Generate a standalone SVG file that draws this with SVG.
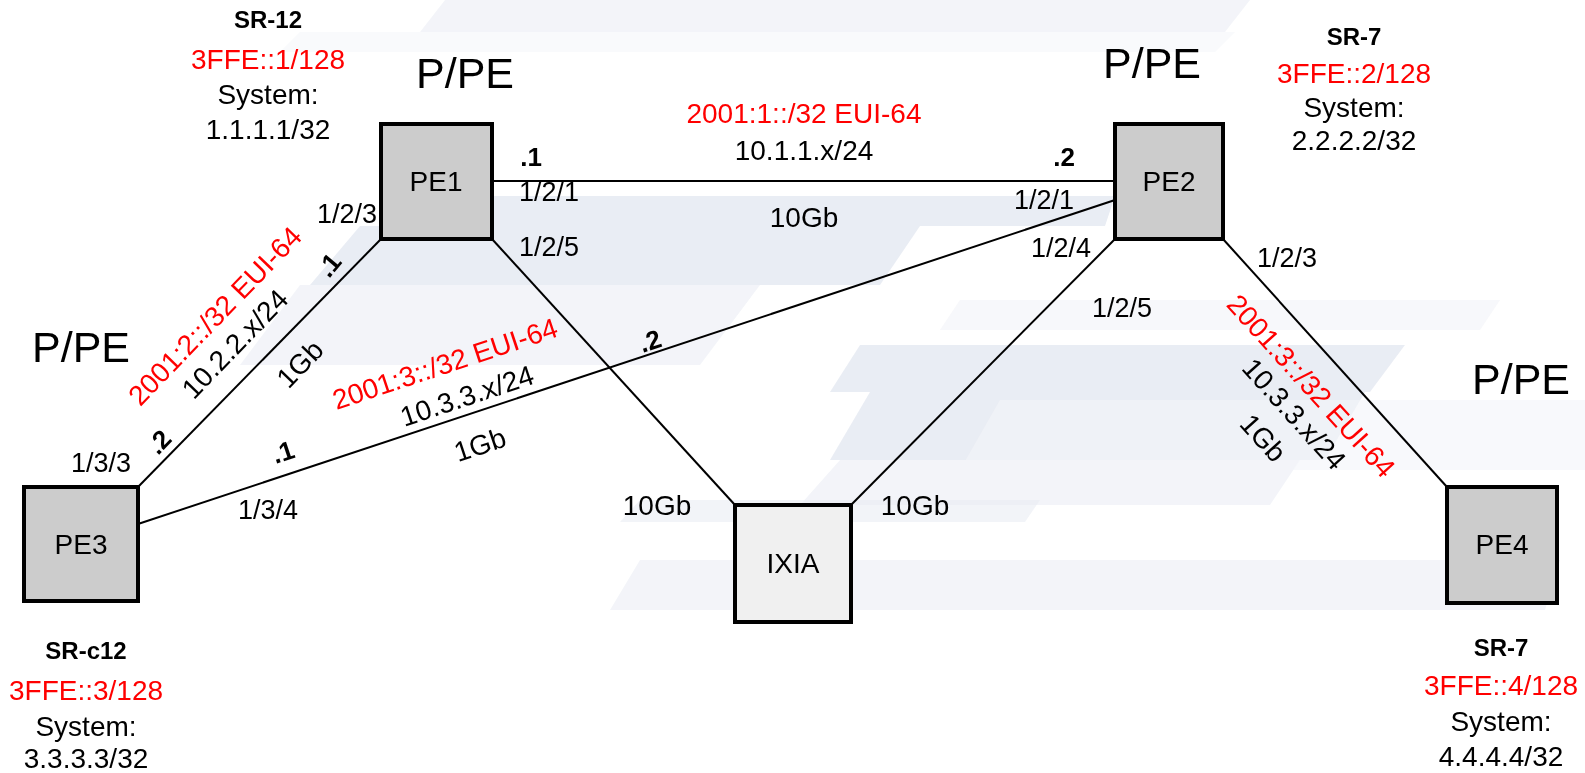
<svg xmlns="http://www.w3.org/2000/svg" width="1585" height="773" viewBox="0 0 1585 773">
<style>
text{font-family:"Liberation Sans",Arial,sans-serif;fill:#000;dominant-baseline:central;text-anchor:middle}
.t{font-size:28px}
.p{font-size:27px}
.r{fill:#ff0000}
.b{font-weight:bold;font-size:24px}
.d{font-weight:bold;font-size:26px}
.big{font-size:43px}
.node{stroke:#000;stroke-width:4}
.link{stroke:#000;stroke-width:2;fill:none}
.bg1{fill:#e6eaf2}
.bg2{fill:#f1f3f8}
</style>
<g id="background" opacity="0.85">
<polygon class="bg2" points="445,0 1250,0 1225,32 420,32"/>
<polygon class="bg2" points="300,32 1235,32 1215,52 280,52" opacity="0.5"/>
<polygon class="bg1" points="470,196 1115,196 1105,226 450,226"/>
<polygon class="bg1" points="360,226 920,226 880,285 310,285"/>
<polygon class="bg2" points="300,285 760,285 700,365 240,365"/>
<polygon class="bg2" points="960,300 1500,300 1480,330 940,330" opacity="0.7"/>
<polygon class="bg1" points="860,345 1405,345 1370,392 830,392"/>
<polygon class="bg1" points="870,392 1365,392 1325,460 830,460"/>
<polygon class="bg2" points="1000,400 1585,400 1585,470 960,470" opacity="0.6"/>
<polygon class="bg2" points="840,460 1300,460 1270,505 800,505"/>
<polygon class="bg1" points="640,500 1040,500 1025,522 620,522" opacity="0.6"/>
<polygon class="bg2" points="640,560 1560,560 1545,610 610,610"/>
</g>
<g id="connectors">
<line class="link" x1="492" y1="181" x2="1115" y2="181"/>
<line class="link" x1="1115" y1="200" x2="138" y2="524"/>
<line class="link" x1="381" y1="239" x2="138" y2="487"/>
<line class="link" x1="492" y1="239" x2="735" y2="505"/>
<line class="link" x1="1115" y1="239" x2="851" y2="505"/>
<line class="link" x1="1223" y1="239" x2="1447" y2="487"/>
</g>
<g id="link-labels">
<text class="t r" x="804" y="113">2001:1::/32 EUI-64</text>
<text class="t" x="804" y="150">10.1.1.x/24</text>
<text class="t" x="804" y="217">10Gb</text>
<text class="d" x="531" y="157">.1</text>
<text class="d" x="1064" y="157">.2</text>
<text class="p" x="549" y="192">1/2/1</text>
<text class="p" x="549" y="247">1/2/5</text>
<text class="p" x="347" y="214">1/2/3</text>
<text class="p" x="1044" y="200">1/2/1</text>
<text class="p" x="1061" y="248">1/2/4</text>
<text class="p" x="1122" y="308">1/2/5</text>
<text class="p" x="1287" y="258">1/2/3</text>
<text class="p" x="101" y="463">1/3/3</text>
<text class="p" x="268" y="510">1/3/4</text>
<text class="t" x="657" y="505">10Gb</text>
<text class="t" x="915" y="505">10Gb</text>
<text class="t r" transform="translate(215,316) rotate(-46)">2001:2::/32 EUI-64</text>
<text class="t" transform="translate(235,344) rotate(-46)">10.2.2.x/24</text>
<text class="t" transform="translate(300,364) rotate(-46)">1Gb</text>
<text class="d" transform="translate(329,265) rotate(-50)">.1</text>
<text class="d" transform="translate(159,442) rotate(-46)">.2</text>
<text class="t r" transform="translate(445,364) rotate(-18.4)">2001:3::/32 EUI-64</text>
<text class="t" transform="translate(467,396) rotate(-18.4)">10.3.3.x/24</text>
<text class="t" transform="translate(480,445) rotate(-18.4)">1Gb</text>
<text class="d" transform="translate(283,452) rotate(-18.4)">.1</text>
<text class="d" transform="translate(650,341) rotate(-18.4)">.2</text>
<text class="t r" transform="translate(1311,386) rotate(47.9)">2001:3::/32 EUI-64</text>
<text class="t" transform="translate(1294,414) rotate(47.9)">10.3.3.x/24</text>
<text class="t" transform="translate(1263,438) rotate(47.9)">1Gb</text>
</g>
<g id="PE1">
<rect class="node" x="381" y="124" width="111" height="115" fill="#cccccc"/>
<text class="t" x="436" y="181">PE1</text>
<text class="big" x="465" y="73">P/PE</text>
<text class="b" x="268" y="19">SR-12</text>
<text class="t r" x="268" y="59">3FFE::1/128</text>
<text class="t" x="268" y="94">System:</text>
<text class="t" x="268" y="129">1.1.1.1/32</text>
</g>
<g id="PE2">
<rect class="node" x="1115" y="124" width="108" height="115" fill="#cccccc"/>
<text class="t" x="1169" y="181">PE2</text>
<text class="big" x="1152" y="63">P/PE</text>
<text class="b" x="1354" y="36">SR-7</text>
<text class="t r" x="1354" y="73">3FFE::2/128</text>
<text class="t" x="1354" y="107">System:</text>
<text class="t" x="1354" y="140">2.2.2.2/32</text>
</g>
<g id="PE3">
<rect class="node" x="24" y="487" width="114" height="114" fill="#cccccc"/>
<text class="t" x="81" y="544">PE3</text>
<text class="big" x="81" y="347">P/PE</text>
<text class="b" x="86" y="650">SR-c12</text>
<text class="t r" x="86" y="690">3FFE::3/128</text>
<text class="t" x="86" y="726">System:</text>
<text class="t" x="86" y="758">3.3.3.3/32</text>
</g>
<g id="PE4">
<rect class="node" x="1447" y="487" width="110" height="116" fill="#cccccc"/>
<text class="t" x="1502" y="544">PE4</text>
<text class="big" x="1521" y="379">P/PE</text>
<text class="b" x="1501" y="647">SR-7</text>
<text class="t r" x="1501" y="685">3FFE::4/128</text>
<text class="t" x="1501" y="721">System:</text>
<text class="t" x="1501" y="756">4.4.4.4/32</text>
</g>
<g id="IXIA">
<rect class="node" x="735" y="505" width="116" height="117" fill="#f0f0f0"/>
<text class="t" x="793" y="563">IXIA</text>
</g>
</svg>
